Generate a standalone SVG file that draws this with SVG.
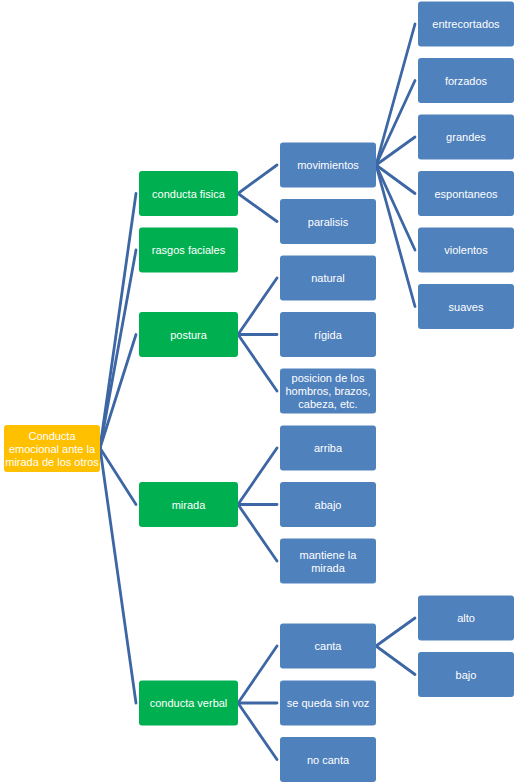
<svg xmlns="http://www.w3.org/2000/svg" width="519" height="783" viewBox="0 0 519 783">
<style>
.c line{stroke:#3d66a4;stroke-width:2.8;stroke-linecap:round}
.b{fill:#4f81bd}
.g{fill:#00b050}
.y{fill:#ffc000}
text{font-family:"Liberation Sans",Arial,sans-serif;font-size:11px;fill:#ffffff;text-anchor:middle;dominant-baseline:central}
</style>
<rect width="519" height="783" fill="#ffffff"/>
<g id="connectors" class="c">
<line x1="100" y1="448" x2="136" y2="193.5"/>
<line x1="100" y1="448" x2="136" y2="250"/>
<line x1="100" y1="448" x2="136" y2="334.5"/>
<line x1="100" y1="448" x2="136" y2="504.5"/>
<line x1="100" y1="448" x2="136" y2="703"/>
<line x1="238" y1="193.5" x2="277" y2="165"/>
<line x1="238" y1="193.5" x2="277" y2="221.5"/>
<line x1="238" y1="334.5" x2="277" y2="278"/>
<line x1="238" y1="334.5" x2="277" y2="334.5"/>
<line x1="238" y1="334.5" x2="277" y2="391"/>
<line x1="238" y1="504.5" x2="277" y2="448"/>
<line x1="238" y1="504.5" x2="277" y2="504.5"/>
<line x1="238" y1="504.5" x2="277" y2="561"/>
<line x1="238" y1="703" x2="277" y2="646"/>
<line x1="238" y1="703" x2="277" y2="703"/>
<line x1="238" y1="703" x2="277" y2="759.5"/>
<line x1="376" y1="165" x2="415" y2="24"/>
<line x1="376" y1="165" x2="415" y2="80.5"/>
<line x1="376" y1="165" x2="415" y2="137"/>
<line x1="376" y1="165" x2="415" y2="193.5"/>
<line x1="376" y1="165" x2="415" y2="250"/>
<line x1="376" y1="165" x2="415" y2="306.5"/>
<line x1="376" y1="646" x2="415" y2="618"/>
<line x1="376" y1="646" x2="415" y2="674.5"/>
</g>
<g id="root"><rect class="y" x="4" y="425" width="96" height="47" rx="3"/><text x="52" y="436">Conducta</text><text x="52" y="449">emocional ante la</text><text x="52" y="462">mirada de los otros</text></g>
<g id="conducta-fisica"><rect class="g" x="139" y="171" width="99" height="45" rx="3"/><text x="188.5" y="193.5">conducta fisica</text></g>
<g id="rasgos-faciales"><rect class="g" x="139" y="227.5" width="99" height="45" rx="3"/><text x="188.5" y="250">rasgos faciales</text></g>
<g id="postura"><rect class="g" x="139" y="312" width="99" height="45" rx="3"/><text x="188.5" y="334.5">postura</text></g>
<g id="mirada"><rect class="g" x="139" y="482" width="99" height="45" rx="3"/><text x="188.5" y="504.5">mirada</text></g>
<g id="conducta-verbal"><rect class="g" x="139" y="680.5" width="99" height="45" rx="3"/><text x="188.5" y="703">conducta verbal</text></g>
<g id="movimientos"><rect class="b" x="280" y="142.5" width="96" height="45" rx="3"/><text x="328" y="165">movimientos</text></g>
<g id="paralisis"><rect class="b" x="280" y="199" width="96" height="45" rx="3"/><text x="328" y="221.5">paralisis</text></g>
<g id="natural"><rect class="b" x="280" y="255.5" width="96" height="45" rx="3"/><text x="328" y="278">natural</text></g>
<g id="rigida"><rect class="b" x="280" y="312" width="96" height="45" rx="3"/><text x="328" y="334.5">rígida</text></g>
<g id="posicion"><rect class="b" x="280" y="368.5" width="96" height="45" rx="3"/><text x="328" y="378">posicion de los</text><text x="328" y="391">hombros, brazos,</text><text x="328" y="404">cabeza, etc.</text></g>
<g id="arriba"><rect class="b" x="280" y="425.5" width="96" height="45" rx="3"/><text x="328" y="448">arriba</text></g>
<g id="abajo"><rect class="b" x="280" y="482" width="96" height="45" rx="3"/><text x="328" y="504.5">abajo</text></g>
<g id="mantiene"><rect class="b" x="280" y="538.5" width="96" height="45" rx="3"/><text x="328" y="554.5">mantiene la</text><text x="328" y="567.5">mirada</text></g>
<g id="canta"><rect class="b" x="280" y="623.5" width="96" height="45" rx="3"/><text x="328" y="646">canta</text></g>
<g id="sin-voz"><rect class="b" x="280" y="680.5" width="96" height="45" rx="3"/><text x="328" y="703">se queda sin voz</text></g>
<g id="no-canta"><rect class="b" x="280" y="737" width="96" height="45" rx="3"/><text x="328" y="759.5">no canta</text></g>
<g id="entrecortados"><rect class="b" x="418" y="1.5" width="96" height="45" rx="3"/><text x="466" y="24">entrecortados</text></g>
<g id="forzados"><rect class="b" x="418" y="58" width="96" height="45" rx="3"/><text x="466" y="80.5">forzados</text></g>
<g id="grandes"><rect class="b" x="418" y="114.5" width="96" height="45" rx="3"/><text x="466" y="137">grandes</text></g>
<g id="espontaneos"><rect class="b" x="418" y="171" width="96" height="45" rx="3"/><text x="466" y="193.5">espontaneos</text></g>
<g id="violentos"><rect class="b" x="418" y="227.5" width="96" height="45" rx="3"/><text x="466" y="250">violentos</text></g>
<g id="suaves"><rect class="b" x="418" y="284" width="96" height="45" rx="3"/><text x="466" y="306.5">suaves</text></g>
<g id="alto"><rect class="b" x="418" y="595.5" width="96" height="45" rx="3"/><text x="466" y="618">alto</text></g>
<g id="bajo"><rect class="b" x="418" y="652" width="96" height="45" rx="3"/><text x="466" y="674.5">bajo</text></g>
</svg>
